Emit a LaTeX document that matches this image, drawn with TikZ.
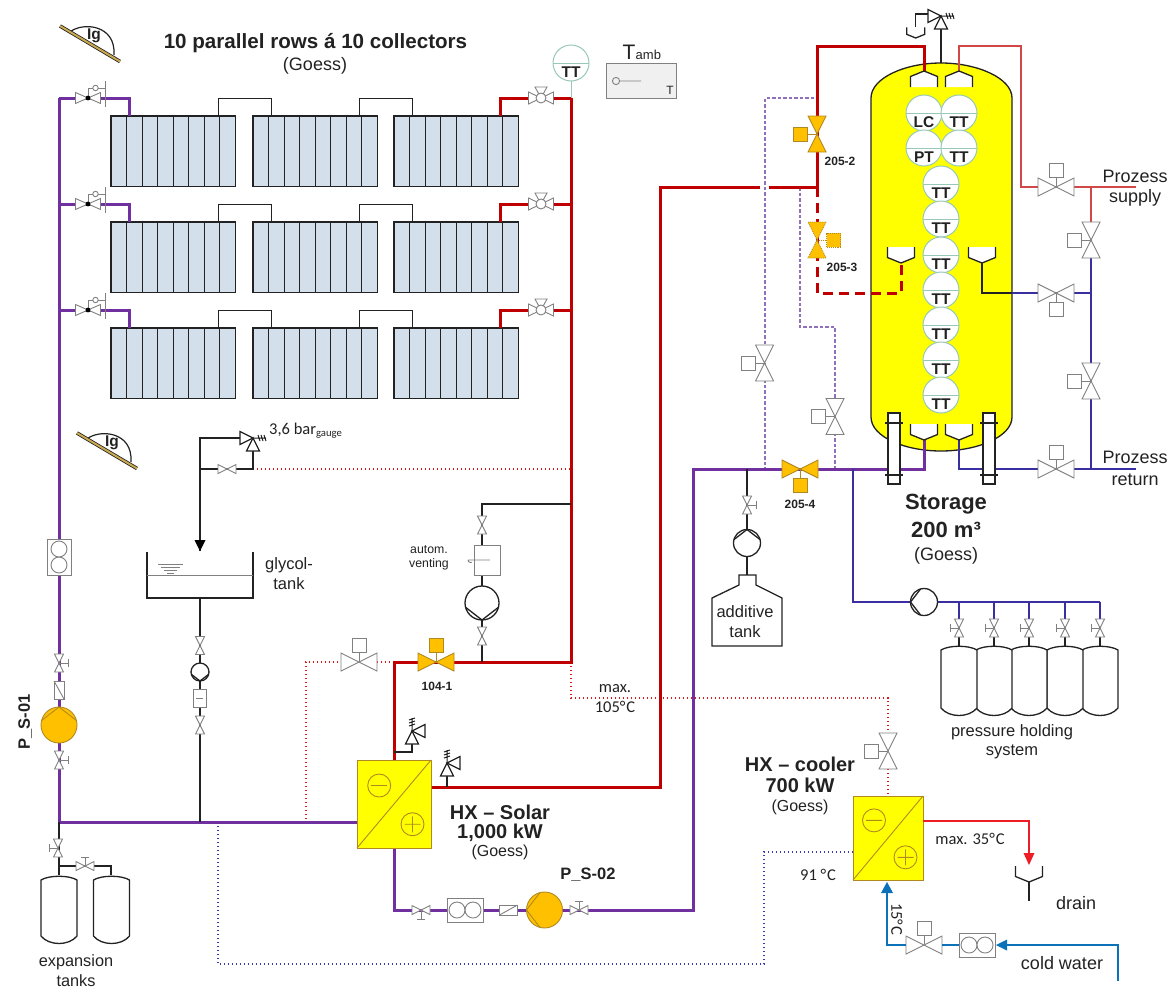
\documentclass[tikz,border=0pt]{standalone}
\usepackage{fontspec}
\setmainfont{Liberation Sans}
\newfontfamily\carl{Carlito}
\usetikzlibrary{calc}
\newcommand\fs[1]{\fontsize{#1}{#1}\selectfont}
\newcommand\degC{{°}\kern.9pt C}
\definecolor{cpurple}{HTML}{7030A0}
\definecolor{cred}{HTML}{C00000}
\definecolor{cthinred}{HTML}{D04848}
\definecolor{cbright}{HTML}{EE1C25}
\definecolor{cblue}{HTML}{3A2FA0}
\definecolor{cwater}{HTML}{0B72B9}
\definecolor{corange}{HTML}{FFC000}
\definecolor{cedge}{HTML}{B08A20}
\definecolor{ccoll}{HTML}{D3DFEA}
\definecolor{cteal}{HTML}{98C8B8}
\definecolor{cdark}{HTML}{222222}
\definecolor{cyell}{HTML}{FFFF00}
\definecolor{ctan}{HTML}{C8A850}
\definecolor{cdotred}{HTML}{D81818}
\definecolor{cdotblue}{HTML}{3838B0}
\definecolor{cdashp}{HTML}{9070B8}
\tikzset{
  x=1pt,y=-1pt,
  lab/.style={inner sep=0pt,align=center,text=cdark},
  purp/.style={draw=cpurple,line width=3pt},
  redp/.style={draw=cred,line width=3pt},
  redd/.style={draw=cred,line width=3pt,dash pattern=on 10pt off 6pt},
  tred/.style={draw=cthinred,line width=1.6pt},
  brt/.style={draw=cbright,line width=1.6pt},
  blu/.style={draw=cblue,line width=1.8pt},
  blk/.style={draw=cdark,line width=1.5pt},
  wat/.style={draw=cwater,line width=1.8pt},
  dpur/.style={draw=cdashp,line width=1.2pt,dash pattern=on 3.5pt off 2pt},
  dred/.style={draw=cdotred,line width=1.2pt,dash pattern=on 1.4pt off 2.6pt},
  dblu/.style={draw=cdotblue,line width=1.2pt,dash pattern=on 1.4pt off 2.6pt},
  gv/.style={draw=gray,fill=white,line width=.9pt},
  ov/.style={draw=cedge,fill=corange,line width=.9pt},
  ovd/.style={draw=cedge,fill=corange,line width=.9pt,densely dotted},
  hxs/.style={draw=cedge,fill=cyell,line width=.9pt},
  inst/.style={draw=cteal,fill=white,line width=1pt},
  tk/.style={draw=cdark,fill=white,line width=1.3pt},
  pics/cv/.style={code={
    \draw[gv,#1] (0,0)--(0,-10);
    \draw[gv,#1] (-7,-23.5) rectangle (7,-9.5);
    \draw[gv,#1] (-18,-9)--(18,9)--(18,-9)--(-18,9)--cycle;}},
  pics/mv/.style={code={
    \draw[gv] (-9,-4.5)--(9,4.5)--(9,-4.5)--(-9,4.5)--cycle;}},
  pics/mvh/.style={code={
    \draw[gv] (0,0)--(0,-9) (-4,-9)--(4,-9);
    \draw[gv] (-9,-4.5)--(9,4.5)--(9,-4.5)--(-9,4.5)--cycle;}},
  pics/meter/.style={code={
    \draw[gv] (-18,-12) rectangle (18,12);
    \draw[gv] (-8,0) circle[radius=8pt];
    \draw[gv] (8,0) circle[radius=8pt];}},
  pics/chk/.style={code={
    \draw[gv] (-9,-5) rectangle (9,5);
    \draw[gv] (-9,5)--(9,-5);}},
  pics/pump/.style n args={2}{code={
    \draw[#2] (0,0) circle[radius=#1 pt];
    \draw[#2,fill=none] (-.97*#1,-.25*#1)--(0,-#1)--(.97*#1,-.25*#1);}},
  pics/sv/.style={code={
    \draw[tk,line width=1.2pt] (0,0)--(-6.5,13)--(6.5,13)--cycle;
    \draw[tk,line width=1.2pt] (0,0)--(13,-6.5)--(13,6.5)--cycle;
    \draw[blk,line width=1pt] (0,0)--(0,-13) (-3,-5)--(3,-7) (-3,-8)--(3,-10) (-3,-11)--(3,-13);}},
  pics/noz/.style={code={
    \draw[tk] (-13.5,16)--(-13.5,5.5)--(0,0)--(13.5,5.5)--(13.5,16);}},
  pics/ball/.style={code={
    \draw[gv] (-12.5,-6)--(12.5,6)--(12.5,-6)--(-12.5,6)--cycle;
    \draw[gv] (0,0)--(-6,-11)--(6,-11)--cycle;
    \draw[gv] (0,0) circle[radius=5pt];}},
  pics/lever/.style={code={
    \draw[gv] (-12.5,-5.5)--(12.5,5.5)--(12.5,-5.5)--(-12.5,5.5)--cycle;
    \draw[gv] (0,0)--(0,-10)--(4.5,-10) (10,-10)--(17,-10) (17,-17)--(17,9);
    \draw[gv] (7.5,-10) circle[radius=2.7pt];
    \fill[black] (0,0) circle[radius=2.4pt];}},
  pics/lgs/.style={code={
    \draw[cdark,line width=1.2pt] (10,6) .. controls (22,-4) and (56,-2) .. (54,29);
    \draw[cdark,line width=3.6pt] (0,0)--(60,35.5);
    \draw[ctan,line width=2pt] (0,0)--(60,35.5);}},
  pics/vessel/.style={code={
    \draw[tk] (-18,6) .. controls (-10,1) and (10,1) .. (18,6) -- (18,62) .. controls (10,72) and (-10,72) .. (-18,62) -- cycle;}},
  pics/hxc/.style 2 args={code={
    \draw[hxs] (0,0) rectangle (#1,#2);
    \draw[cedge,line width=.9pt] (0,#2)--(#1,0);
    \draw[cedge,line width=.9pt] (.3*#1,.29*#2) circle[radius=11.5pt] (.3*#1-8,.29*#2)--(.3*#1+8,.29*#2);
    \draw[cedge,line width=.9pt] (.75*#1,.73*#2) circle[radius=11.5pt] (.75*#1-8,.73*#2)--(.75*#1+8,.73*#2) (.75*#1,.73*#2-8)--(.75*#1,.73*#2+8);}},
}
\begin{document}
\begin{tikzpicture}
\useasboundingbox (0,0) rectangle (1169,988);

% ---------- named points of the plant ----------
\coordinate (hdrTop) at (59,98);
\coordinate (hdrMain) at (59,822);
\coordinate (redTop) at (571,98);
\coordinate (redBot) at (571,662);
\coordinate (hxL) at (357,822);
\coordinate (hxT) at (394,760);
\coordinate (hxTurn) at (394,662);
\coordinate (hxR) at (431,787);
\coordinate (hxB) at (394,848);
\coordinate (hxBturn) at (394,910);
\coordinate (v104) at (436,662);
\coordinate (v104s) at (359,662);
\coordinate (rise) at (660,787);
\coordinate (riseTop) at (660,187);
\coordinate (gapL) at (760,187);
\coordinate (gapR) at (769,187);
\coordinate (teeA) at (817,187);
\coordinate (v2052) at (817,134);
\coordinate (v2053) at (817,240);
\coordinate (topL) at (817,46);
\coordinate (topM) at (924,46);
\coordinate (nozA) at (924,71);
\coordinate (nozB) at (959,71);
\coordinate (topB) at (959,46);
\coordinate (topC) at (1021,46);
\coordinate (supL) at (1021,187);
\coordinate (vSup) at (1056,187);
\coordinate (supJ) at (1091,187);
\coordinate (supE) at (1136,187);
\coordinate (vByp1) at (1091,240);
\coordinate (midJ) at (1091,293);
\coordinate (vByp2) at (1091,381);
\coordinate (retJ) at (1091,469);
\coordinate (vRet) at (1056,469);
\coordinate (retE) at (1136,469);
\coordinate (nozC) at (959,440);
\coordinate (nozCb) at (959,469);
\coordinate (nozD) at (924,440);
\coordinate (nozDb) at (924,469);
\coordinate (v2054) at (800,469);
\coordinate (addJ) at (747,469);
\coordinate (presJ) at (853,469);
\coordinate (presT) at (853,602);
\coordinate (pumpP) at (924,602);
\coordinate (presE) at (1100,602);
\coordinate (solRet) at (693,469);
\coordinate (solBot) at (693,910);
\coordinate (nozE) at (901,263);
\coordinate (nozEb) at (901,293);
\coordinate (dashT) at (817,293);
\coordinate (nozF) at (982,263);
\coordinate (nozFb) at (982,293);
\coordinate (nozFe) at (1012,293);
\coordinate (vMid) at (1056,293);
\coordinate (pS1) at (59,725);
\coordinate (pS2) at (544.5,910);
\coordinate (glyJ) at (200,822);

% ---------- collectors ----------
\foreach \i/\ry in {1/116,2/222,3/328}{
  \foreach \gx in {111,253,394}{
    \draw[cdark,fill=ccoll,line width=1.1pt] (\gx,\ry) rectangle ++(124.5,70.5);
    \foreach \k in {1,...,7}{\draw[cdark,line width=1.1pt] (\gx+15.56*\k,\ry)--(\gx+15.56*\k,\ry+70.5);}
  }
  \draw[blk,line width=1pt] (218,\ry)--(218,\ry-18)--(271,\ry-18)--(271,\ry);
  \draw[blk,line width=1pt] (359,\ry)--(359,\ry-18)--(412,\ry-18)--(412,\ry);
  \coordinate (rowPl\i) at (59,\ry-18);
  \coordinate (rowPc\i) at (129,\ry-18);
  \coordinate (rowPe\i) at (129,\ry);
  \coordinate (rowRl\i) at (571,\ry-18);
  \coordinate (rowRc\i) at (500,\ry-18);
  \coordinate (rowRe\i) at (500,\ry);
  \coordinate (rowV\i) at (88,\ry-18);
  \coordinate (rowB\i) at (541,\ry-18);
  \draw[purp] (rowPl\i)--(rowPc\i)--(rowPe\i);
  \draw[redp] (rowRl\i)--(rowRc\i)--(rowRe\i);
  \pic at (rowV\i) {lever};
  \pic at (rowB\i) {ball};
}

% ---------- storage tank ----------
\draw[draw=cdark,fill=cyell,line width=1.3pt] (871,98) .. controls (871,78) and (905,63) .. (941,63) .. controls (977,63) and (1012,78) .. (1012,98) -- (1012,417) .. controls (1012,437) and (977,451) .. (941,451) .. controls (905,451) and (871,437) .. (871,417) -- cycle;

% ---------- dashed / dotted signal lines ----------
\coordinate (dpA) at (814,98);
\coordinate (dpB) at (765,98);
\coordinate (dpC) at (765,469);
\coordinate (dpD) at (800,187);
\coordinate (dpE) at (800,327);
\coordinate (dpF) at (835,327);
\coordinate (dpG) at (835,469);
\draw[dpur] (dpA)--(dpB)--(dpC);
\draw[dpur] (dpD)--(dpE)--(dpF)--(dpG);
\coordinate (drA) at (253,469);
\coordinate (drB) at (571,469);
\draw[dred] (drA)--(drB);
\coordinate (drC) at (306,662);
\coordinate (drD) at (306,822);
\draw[dred] (hxTurn)--(drC)--(drD);
\coordinate (drE) at (571,698);
\coordinate (drF) at (888,698);
\coordinate (drG) at (888,796);
\draw[dred] (redBot)--(drE)--(drF)--(drG);
\coordinate (dbA) at (218,822);
\coordinate (dbB) at (218,964);
\coordinate (dbC) at (764,964);
\coordinate (dbD) at (764,852);
\coordinate (dbE) at (853,852);
\draw[dblu] (dbA)--(dbB)--(dbC)--(dbD)--(dbE);

% ---------- main pipes ----------
\draw[purp] (rowPl1)--(hdrMain)--(hxL);
\draw[redp] (redTop)--(redBot)--(hxTurn)--(hxT);
\draw[redp] (hxR)--(rise)--(riseTop)--(gapL);
\draw[redp] (gapR)--(teeA)--(topL)--(topM)--(nozA);
\draw[redd] (teeA)--(v2053)--(dashT)--(nozEb)--(nozE);
\draw[tred] (nozB)--(topB)--(topC)--(supL)--(supE);
\draw[tred] (supJ)--(vByp1);
\draw[blu] (vByp1)--(retJ);
\draw[blu] (nozF)--(nozFb)--(midJ);
\draw[blk] (nozF)--(nozFb)--(nozFe);
\draw[blu] (nozC)--(nozCb)--(retE);
\draw[purp] (nozD)--(nozDb)--(solRet)--(solBot)--(hxBturn)--(hxB);
\draw[blu] (presJ)--(presT)--(presE);
\foreach \n/\dx in {1/959,2/994,3/1029,4/1065,5/1100}{
  \coordinate (dropT\n) at (\dx,602);
  \coordinate (dropV\n) at (\dx,628);
  \coordinate (dropB\n) at (\dx,646);
  \draw[blu] (dropT\n)--(dropV\n);
  \draw[blk] (dropV\n)--(dropB\n);
}

% ---------- black auxiliary pipes ----------
\coordinate (venA) at (482,662);
\coordinate (venB) at (482,504);
\coordinate (venC) at (571,504);
\draw[blk] (venA)--(venB)--(venC);
\coordinate (addB) at (747,575);
\draw[blk] (addJ)--(addB);
\coordinate (glyT) at (200,598);
\draw[blk] (glyT)--(glyJ);
\coordinate (expA) at (59,875);
\coordinate (expB) at (59,866);
\coordinate (expC) at (111,866);
\coordinate (expD) at (111,875);
\draw[blk] (hdrMain)--(expA);
\draw[blk] (expB)--(expC)--(expD);
\coordinate (svA) at (253,438);
\coordinate (svB) at (200,438);
\coordinate (svC) at (253,451);
\coordinate (svD) at (253,469);
\coordinate (svE) at (200,469);
\coordinate (arrowTip) at (200,551);
\draw[blk] (svA)--(svB)--(arrowTip);
\draw[blk] (svC)--(svD)--(svE);
\fill[black] (arrowTip)--++(-5.5,-11)--++(11,0)--cycle;
\coordinate (sfA) at (412,731);
\coordinate (sfAb) at (412,752);
\coordinate (sfAc) at (394,752);
\draw[blk] (sfA)--(sfAb)--(sfAc);
\coordinate (sfB) at (447,763);
\coordinate (sfBb) at (447,787);
\draw[blk] (sfB)--(sfBb);
\coordinate (sfT) at (941,16);
\coordinate (tankTop) at (941,63);
\draw[blk] (tankTop)--(sfT);
\coordinate (sfTa) at (928,14);
\coordinate (sfTb) at (915.7,14);
\coordinate (sfTc) at (915.7,27);
\draw[blk] (sfTa)--(sfTb)--(sfTc);

% ---------- nozzles ----------
\pic at (nozA) {noz};
\pic at (nozB) {noz};
\pic[rotate=180] at (nozE) {noz};
\pic[rotate=180] at (nozF) {noz};
\pic[rotate=180] at (nozD) {noz};
\pic[rotate=180] at (nozC) {noz};
\pic[rotate=180,scale=.67] at (915.7,38) {noz};

% ---------- flanges ----------
\foreach \fx in {888,983}{
  \draw[tk] (\fx,413) rectangle (\fx+12,484);
  \draw[blk,line width=1.2pt] (\fx-3,423)--(\fx+15,423) (\fx-3,475)--(\fx+15,475);
}

% ---------- instruments ----------
\foreach \n/\ix/\iy/\it in {a/924/113/LC,b/959/113/TT,c/924/148/PT,d/959/148/TT,e/941/184/TT,f/941/219/TT,g/941/255/TT,h/941/290/TT,i/941/325/TT,j/941/360/TT,k/941/395/TT,t/571/63/TT}{
  \coordinate (ci\n) at (\ix,\iy);
  \draw[inst] (ci\n) circle[radius=18pt];
  \draw[inst] (\ix-18,\iy)--(\ix+18,\iy);
  \node[lab,font=\bfseries\fs{15.5}] (ilab\n) at (\ix,\iy+9) {\it};
}
\coordinate (ttFoot) at (571,81);
\draw[inst] (ttFoot)--(redTop);

% ---------- T_amb ----------
\draw[draw=gray,fill=black!6,line width=.9pt] (606,63) rectangle (676.5,98);
\coordinate (tbA) at (616,81);
\coordinate (tbB) at (641,81);
\draw[draw=gray,line width=.9pt] (tbA) circle[radius=3.6pt] (619.6,81)--(tbB);
\node[lab,font=\fs{21}] (tambT) at (629,52) {T};
\node[lab,font=\fs{13},anchor=base west] (tambS) at (635.5,59) {amb};
\node[lab,font=\fs{12}] (tambU) at (670,90) {T};

% ---------- tanks ----------
\draw[tk,fill=none] (147,552)--(147,598)--(253,598)--(253,552);
\coordinate (lvA) at (147,575);
\coordinate (lvB) at (253,575);
\draw[draw=gray,line width=.9pt] (lvA)--(lvB);
\draw[draw=gray,line width=.7pt] (158,564)--(183,564) (161,567)--(180,567) (164,570)--(177,570) (167,573)--(174,573);
\pic at (59,874) {vessel};
\pic at (111.5,874) {vessel};
\foreach \tx in {1100,1065,1029,994,959}{
  \draw[tk] (\tx-18,650) .. controls (\tx-10,645) and (\tx+10,645) .. (\tx+18,650) -- (\tx+18,708) .. controls (\tx+10,718) and (\tx-10,718) .. (\tx-18,708) -- cycle;
}
\draw[tk,fill=none] (739,575)--(739,585)--(712,598)--(712,646)--(782,646)--(782,598)--(756,585)--(756,575)--cycle;

% ---------- Lg sensors ----------
\pic at (60,26) {lgs};
\pic at (77,433) {lgs};

% ---------- control valves ----------
\pic at (vSup) {cv};
\pic[rotate=90] at (vByp1) {cv};
\pic[rotate=180] at (vMid) {cv};
\pic[rotate=90] at (vByp2) {cv};
\pic at (vRet) {cv};
\pic[rotate=90] at (764.5,363) {cv};
\pic[rotate=90] at (835,416.5) {cv};
\pic at (v104s) {cv};
\pic at (v104) {cv=ov};
\pic[rotate=90] at (v2052) {cv=ov};
\pic[rotate=-90] at (v2053) {cv=ovd};
\pic[rotate=180] at (v2054) {cv=ov};
\pic[rotate=90] at (888,751) {cv};
\pic at (924,945) {cv};

% ---------- small valves ----------
\pic[rotate=90] at (482,525) {mv};
\pic[rotate=90] at (482,636) {mv};
\pic[rotate=90] at (200,645.5) {mv};
\pic[rotate=90] at (200,725) {mv};
\pic at (227,469) {mv};
\pic[rotate=-90] at (59,663) {mvh};
\pic[rotate=-90] at (59,760) {mvh};
\pic[rotate=90] at (58,848) {mvh};
\pic at (85,866) {mvh};
\pic[rotate=180] at (421,910) {mvh};
\pic at (579,910) {mvh};
\pic[rotate=-90] at (747,505) {mvh};
\foreach \n in {1,...,5}{\pic[rotate=90] at (dropV\n) {mvh};}

% ---------- meters and checks ----------
\pic[rotate=90] at (59,557) {meter};
\pic at (465,910) {meter};
\pic[rotate=90] at (59,690) {chk};
\pic at (508.5,910) {chk};

% ---------- pumps ----------
\pic at (pS1) {pump={18}{ov}};
\pic[rotate=90] at (pS2) {pump={18}{ov}};
\pic[rotate=180] at (482,603) {pump={17}{tk}};
\pic[rotate=180] at (200,672) {pump={9}{tk}};
\pic at (747,543) {pump={13.5}{tk}};
\pic[rotate=90] at (pumpP) {pump={13.5}{tk}};
\draw[gv] (474.5,545) rectangle (500,575);
\draw[gv,fill=none] (468,560)--(490,560) (468,560) arc[start angle=180,end angle=300,radius=2.5pt];
\draw[gv] (193,689) rectangle (206,707);
\draw[gv] (196,698)--(203,698);

% ---------- safety valves ----------
\pic at (sfA) {sv};
\pic at (sfB) {sv};
\pic[rotate=-90] at (svA) {sv};
\pic[rotate=-90] at (sfT) {sv};

% ---------- heat exchangers ----------
\pic at (357,760) {hxc={74}{88}};
\pic at (853,796) {hxc={70}{84}};

% ---------- cooler circuit ----------
\coordinate (coolOut) at (923,821);
\coordinate (coolTurn) at (1029,821);
\coordinate (drainTip) at (1029,865);
\draw[brt] (coolOut)--(coolTurn)--(1029,854);
\fill[cbright] (drainTip)--++(-5.5,-12)--++(11,0)--cycle;
\pic[rotate=180] at (1029,882) {noz};
\coordinate (drainTop) at (1029,882);
\coordinate (drainEnd) at (1029,901);
\draw[blk] (drainTop)--(drainEnd);
\coordinate (cwStart) at (1118,981);
\coordinate (cwTurn) at (1118,945);
\coordinate (cwTip) at (996,945);
\coordinate (cwM) at (977,945);
\coordinate (cwV) at (924,945);
\coordinate (cwL) at (887,945);
\coordinate (cwTip2) at (887,882);
\draw[wat] (cwStart)--(cwTurn)--(1007,945);
\draw[wat] (cwM)--(942,945);
\draw[wat] (906,945)--(cwL)--(887,893);
\fill[cwater] (cwTip)--++(11,-5.5)--++(0,11)--cycle;
\fill[cwater] (cwTip2)--++(-6,11)--++(12,0)--cycle;
\pic at (cwM) {meter};

% ---------- texts ----------
\node[lab,font=\bfseries\fs{15.5}] (lgA) at (94,36) {Ig};
\node[lab,font=\bfseries\fs{15.5}] (lgB) at (112,443) {Ig};
\node[lab,font=\bfseries\fs{20.6}] (title) at (315.5,43) {10 parallel rows á 10 collectors};
\node[lab,font=\fs{18}] (titleB) at (315,66) {(Goess)};
\node[lab,font=\bfseries\fs{12}] (l2052) at (840,161) {205-2};
\node[lab,font=\bfseries\fs{12}] (l2053) at (842,267) {205-3};
\node[lab,font=\bfseries\fs{12}] (l2054) at (800,504) {205-4};
\node[lab,font=\bfseries\fs{12}] (l1041) at (437,686) {104-1};
\node[lab,font=\fs{18}] (psA) at (1135,176) {Prozess};
\node[lab,font=\fs{18}] (psB) at (1135,198) {supply};
\node[lab,font=\fs{18}] (prA) at (1135,457) {Prozess};
\node[lab,font=\fs{18}] (prB) at (1135,480) {return};
\node[lab,font=\bfseries\fs{22}] (stA) at (946,504) {Storage};
\node[lab,font=\bfseries\fs{22}] (stB) at (946,530) {200 m³};
\node[lab,font=\fs{18}] (stC) at (946,556) {(Goess)};
\node[lab,font=\fs{16.5}] (addA) at (745,612) {additive};
\node[lab,font=\fs{16.5}] (addBt) at (745,632) {tank};
\node[lab,font=\fs{16.5}] (phA) at (1012,732) {pressure holding};
\node[lab,font=\fs{16.5}] (phB) at (1012,752) {system};
\node[lab,font=\fs{16.5}] (glyA) at (289,565) {glycol-};
\node[lab,font=\fs{16.5}] (glyB) at (289,584) {tank};
\node[lab,font=\fs{12.3}] (venTa) at (429,550) {autom.};
\node[lab,font=\fs{12.3}] (venTb) at (429,564.5) {venting};
\node[lab,font=\carl\fs{16.5},anchor=base west] (barT) at (269,434) {3,6 bar\textsubscript{\fs{10.7}gauge}};
\node[lab,font=\carl\fs{16.5}] (mA) at (615,689) {max.};
\node[lab,font=\carl\fs{16.5}] (mB) at (615,707) {105\degC};
\node[lab,font=\carl\fs{16.5}] (mC) at (970,839) {max. 35\degC};
\node[lab,font=\carl\fs{16.5}] (mD) at (818,875) {91 \degC};
\node[lab,font=\carl\fs{16.5},rotate=-90] (mE) at (897,919) {15\degC};
\node[lab,font=\bfseries\fs{16.5},rotate=90] (ps1) at (25,722) {P\_S-01};
\node[lab,font=\bfseries\fs{16.5}] (ps2) at (588,875) {P\_S-02};
\node[lab,font=\bfseries\fs{20}] (hxA) at (500,812) {HX – Solar};
\node[lab,font=\bfseries\fs{20}] (hxBt) at (500,833) {1,000 kW};
\node[lab,font=\fs{16}] (hxCt) at (500,852) {(Goess)};
\node[lab,font=\bfseries\fs{20}] (cxA) at (800,764) {HX – cooler};
\node[lab,font=\bfseries\fs{20}] (cxB) at (800,785) {700 kW};
\node[lab,font=\fs{16}] (cxC) at (800,807) {(Goess)};
\node[lab,font=\fs{18}] (dr) at (1076,903) {drain};
\node[lab,font=\fs{18}] (cw) at (1062,963) {cold water};
\node[lab,font=\fs{16.3}] (exA) at (76,962) {expansion};
\node[lab,font=\fs{16.3}] (exB) at (76,981) {tanks};
\end{tikzpicture}
\end{document}
